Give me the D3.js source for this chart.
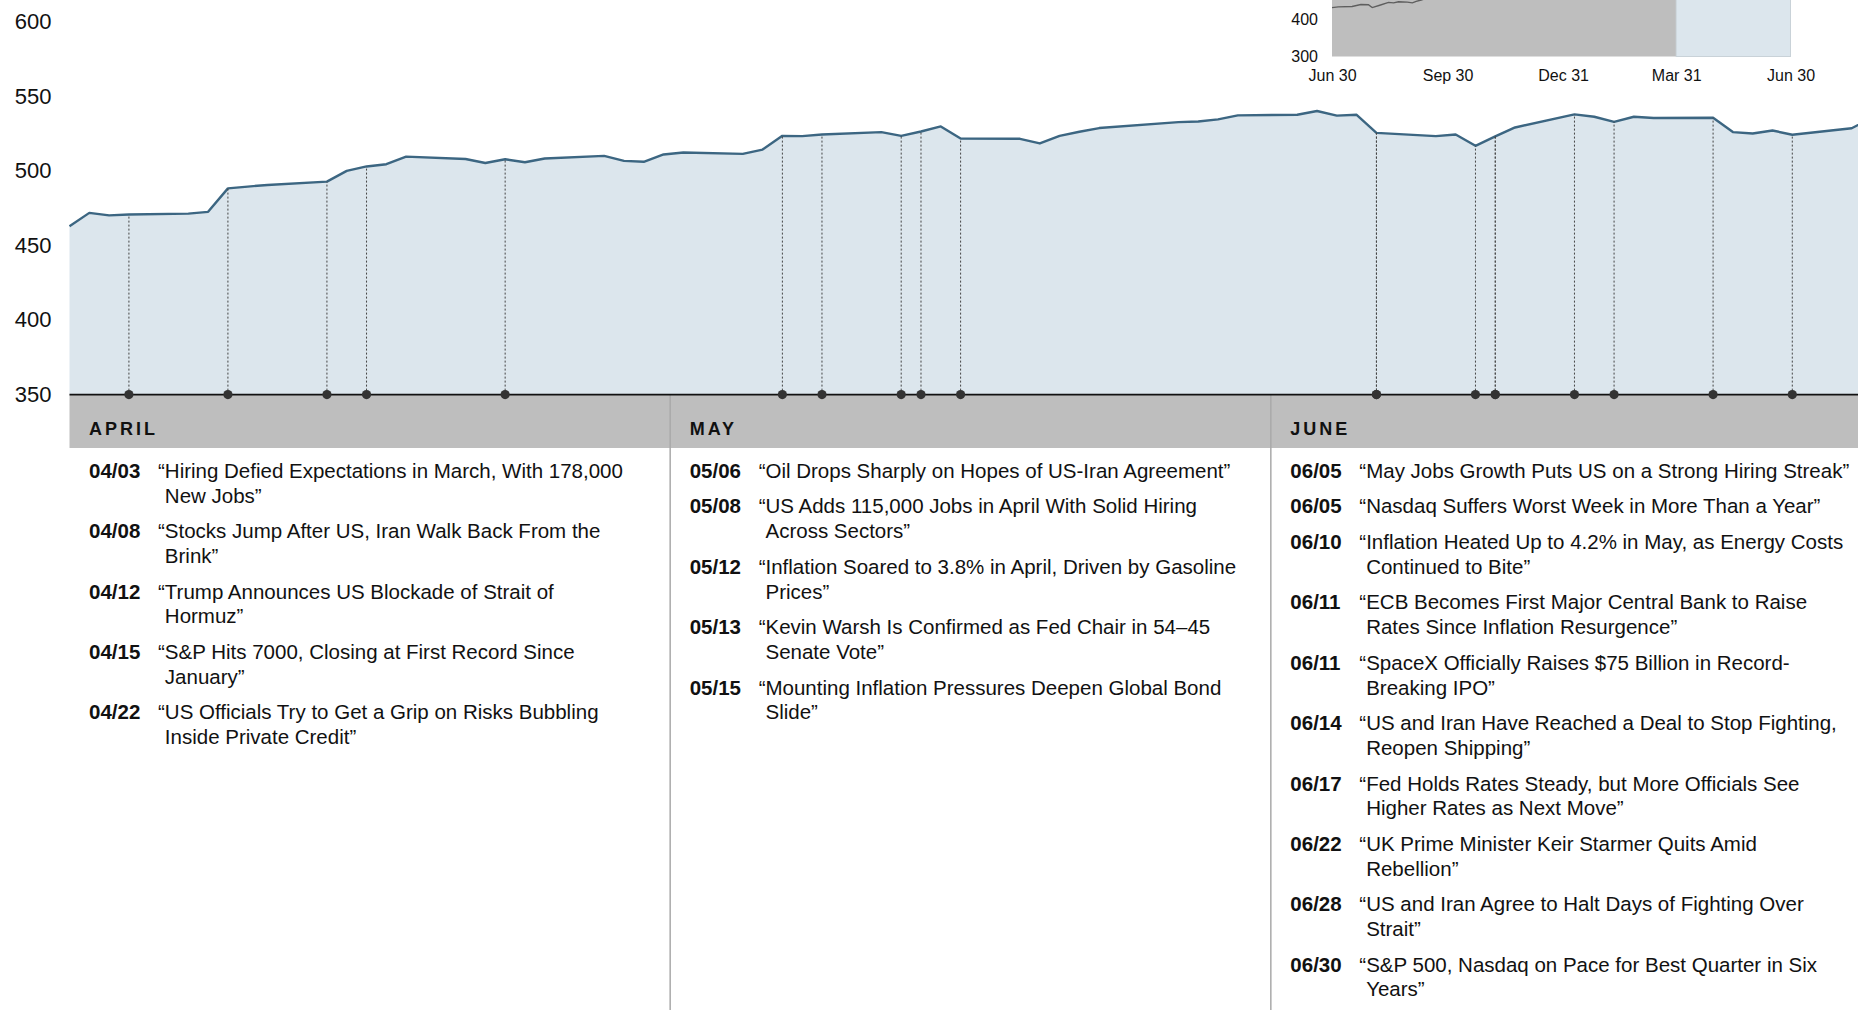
<!DOCTYPE html>
<html>
<head>
<meta charset="utf-8">
<script src="https://cdn.jsdelivr.net/npm/d3@7"></script>
<style>
html, body { margin: 0; padding: 0; background: #fff; overflow: hidden; }
svg { display: block; font-family: "Liberation Sans", Arial, Helvetica, sans-serif; }
</style>
</head>
<body>
<div id="chart"></div>
<script>
// daily closes shown in the main panel
const tradeDates = [
  "2026-03-31","2026-04-01","2026-04-02","2026-04-03","2026-04-06","2026-04-07","2026-04-08","2026-04-09",
  "2026-04-10","2026-04-13","2026-04-14","2026-04-15","2026-04-16","2026-04-17","2026-04-20","2026-04-21",
  "2026-04-22","2026-04-23","2026-04-24","2026-04-27","2026-04-28","2026-04-29","2026-04-30","2026-05-01",
  "2026-05-04","2026-05-05","2026-05-06","2026-05-07","2026-05-08","2026-05-11","2026-05-12","2026-05-13",
  "2026-05-14","2026-05-15","2026-05-18","2026-05-19","2026-05-20","2026-05-21","2026-05-22","2026-05-26",
  "2026-05-27","2026-05-28","2026-05-29","2026-06-01","2026-06-02","2026-06-03","2026-06-04","2026-06-05",
  "2026-06-08","2026-06-09","2026-06-10","2026-06-11","2026-06-12","2026-06-15","2026-06-16","2026-06-17",
  "2026-06-18","2026-06-19","2026-06-22","2026-06-23","2026-06-24","2026-06-25","2026-06-26","2026-06-29",
  "2026-06-30"
]
const closeValues = [
  462.8, 471.7, 470.0, 470.6, 471.2, 472.4, 488.1, 489.3,
  490.4, 492.6, 499.8, 502.8, 504.3, 509.4, 507.8, 505.1,
  507.6, 505.6, 508.1, 509.9, 506.5, 505.9, 510.8, 512.1,
  511.2, 514.1, 523.3, 523.1, 524.2, 525.8, 523.3, 526.2,
  529.6, 521.5, 521.3, 518.2, 523.3, 526.0, 528.5, 532.5,
  532.9, 534.3, 537.0, 537.4, 539.9, 536.8, 537.4, 525.3,
  523.1, 524.2, 516.6, 522.9, 528.9, 537.7, 536.1, 532.7,
  536.1, 535.2, 535.4, 525.8, 524.9, 526.9, 524.0, 528.4,
  535.2
]

// one-year history for the small inset (before the main window)
const insetDates = [
  "2025-06-30","2025-07-05","2025-07-16","2025-07-23","2025-07-29","2025-08-01","2025-08-07","2025-08-14",
  "2025-08-18","2025-08-22","2025-08-29","2025-09-02","2025-09-05","2025-09-09","2025-09-16","2025-09-30",
  "2025-10-15","2025-10-31","2025-11-14","2025-11-28","2025-12-15","2025-12-31","2026-01-15","2026-01-30",
  "2026-02-13","2026-02-27","2026-03-13"
]
const insetValues = [
  432.2, 434.0, 435.0, 440.5, 439.7, 432.2, 438.6, 446.2,
  445.0, 448.0, 447.0, 445.0, 449.0, 452.7, 460.0, 466.0,
  472.0, 480.0, 476.0, 484.0, 488.0, 491.0, 494.0, 486.0,
  478.0, 474.0, 468.0
]

const yTicks = [350, 400, 450, 500, 550, 600]
const insetYTicks = [300, 400]
const insetXTicks = ["2025-06-30", "2025-09-30", "2025-12-31", "2026-03-31", "2026-06-30"]
const months = ["APRIL", "MAY", "JUNE"]

// headlines: label, day the marker is pinned to, title
const eventLabels = ["04/03","04/08","04/12","04/15","04/22",
  "05/06","05/08","05/12","05/13","05/15",
  "06/05","06/05","06/10","06/11","06/11","06/14","06/17","06/22","06/28","06/30"]
const eventPins = ["2026-04-03","2026-04-08","2026-04-13","2026-04-15","2026-04-22",
  "2026-05-06","2026-05-08","2026-05-12","2026-05-13","2026-05-15",
  "2026-06-05","2026-06-05","2026-06-10","2026-06-11","2026-06-11","2026-06-15","2026-06-17","2026-06-22","2026-06-26","2026-06-30"]
const eventTitles = [
  "“Hiring Defied Expectations in March, With 178,000 New Jobs”",
  "“Stocks Jump After US, Iran Walk Back From the Brink”",
  "“Trump Announces US Blockade of Strait of Hormuz”",
  "“S&P Hits 7000, Closing at First Record Since January”",
  "“US Officials Try to Get a Grip on Risks Bubbling Inside Private Credit”",
  "“Oil Drops Sharply on Hopes of US-Iran Agreement”",
  "“US Adds 115,000 Jobs in April With Solid Hiring Across Sectors”",
  "“Inflation Soared to 3.8% in April, Driven by Gasoline Prices”",
  "“Kevin Warsh Is Confirmed as Fed Chair in 54–45 Senate Vote”",
  "“Mounting Inflation Pressures Deepen Global Bond Slide”",
  "“May Jobs Growth Puts US on a Strong Hiring Streak”",
  "“Nasdaq Suffers Worst Week in More Than a Year”",
  "“Inflation Heated Up to 4.2% in May, as Energy Costs Continued to Bite”",
  "“ECB Becomes First Major Central Bank to Raise Rates Since Inflation Resurgence”",
  "“SpaceX Officially Raises $75 Billion in Record-Breaking IPO”",
  "“US and Iran Have Reached a Deal to Stop Fighting, Reopen Shipping”",
  "“Fed Holds Rates Steady, but More Officials See Higher Rates as Next Move”",
  "“UK Prime Minister Keir Starmer Quits Amid Rebellion”",
  "“US and Iran Agree to Halt Days of Fighting Over Strait”",
  "“S&P 500, Nasdaq on Pace for Best Quarter in Six Years”"
]

const parse = d3.timeParse("%Y-%m-%d")
const series = tradeDates.map((d, i) => ({date: parse(d), value: closeValues[i]}))
const insetSeries = insetDates.map((d, i) => ({date: parse(d), value: insetValues[i]})).concat(series)
const events = eventLabels.map((l, i) => ({label: l, pin: parse(eventPins[i]), title: eventTitles[i], month: +l.slice(0, 2) - 4}))

const W = 1858, H = 1013
const svg = d3.select("#chart").append("svg")
    .attr("width", W)
    .attr("height", H)

const x = d3.scaleTime()
    .domain([parse("2026-03-31"), parse("2026-06-30")])
    .range([69.5, 1871.5])
const y = d3.scaleLinear()
    .domain([350, 600])
    .range([394.6, 21.3])

// area + line
svg.append("path")
    .datum(series)
    .attr("fill", "#dce6ed")
    .attr("d", d3.area().x(d => x(d.date)).y0(y(350)).y1(d => y(d.value)))

svg.append("path")
    .datum(series)
    .attr("fill", "none")
    .attr("stroke", "#3c6682")
    .attr("stroke-width", 2.4)
    .attr("stroke-linejoin", "round")
    .attr("d", d3.line().x(d => x(d.date)).y(d => y(d.value)))

// y labels
const yAxis = svg.append("g")
    .attr("transform", "translate(" + x.range()[0] + ",0)")
    .call(d3.axisLeft(y).tickValues(yTicks).tickSize(0).tickPadding(18))
yAxis.select(".domain").remove()
yAxis.selectAll("text")
    .attr("font-family", null)
    .attr("font-size", 22)
    .attr("fill", "#111")

// month band
const band = d3.scaleBand().domain(months).range(x.range())
const bandTop = y(350), bandBottom = 448

svg.append("rect")
    .attr("x", x.range()[0])
    .attr("y", bandTop)
    .attr("width", x.range()[1] - x.range()[0])
    .attr("height", bandBottom - bandTop)
    .attr("fill", "#bebebe")

svg.selectAll(".divider")
    .data(months.slice(1)).enter()
    .append("line")
    .attr("x1", d => band(d)).attr("x2", d => band(d))
    .attr("y1", bandTop).attr("y2", 1010)
    .attr("stroke", "#a9a9a9")
    .attr("stroke-width", 1.5)

svg.selectAll(".month")
    .data(months).enter()
    .append("text")
    .attr("x", d => band(d) + 19.5)
    .attr("y", 434.5)
    .attr("font-size", 18)
    .attr("font-weight", "bold")
    .attr("letter-spacing", 3)
    .attr("fill", "#111")
    .text(d => d)

// event stems and dots
const valueAt = new Map(series.map(d => [+d.date, d.value]))
svg.selectAll(".stem")
    .data(events).enter()
    .append("line")
    .attr("x1", d => x(d.pin)).attr("x2", d => x(d.pin))
    .attr("y1", y(350))
    .attr("y2", d => y(valueAt.get(+d.pin)))
    .attr("stroke", "#444")
    .attr("stroke-width", 1)
    .attr("stroke-dasharray", "2,2")

svg.append("line")
    .attr("x1", x.range()[0]).attr("x2", x.range()[1])
    .attr("y1", y(350)).attr("y2", y(350))
    .attr("stroke", "#111")
    .attr("stroke-width", 1.6)

svg.selectAll(".dot")
    .data(events).enter()
    .append("circle")
    .attr("cx", d => x(d.pin))
    .attr("cy", y(350))
    .attr("r", 4.6)
    .attr("fill", "#333")

// headline lists
const fontSize = 20.5, lineH = 24.7, itemGap = 10.95, firstBase = 477.8
const wrapWidths = [480, 480, 493]

function tokens(s) {
    const out = []
    s.split(" ").forEach((w, i) => {
        w.split(/(?<=-)/).forEach((p, j) => out.push({t: p, sp: i > 0 && j === 0}))
    })
    return out
}

months.forEach((m, mi) => {
    const left = band(m)
    let yy = firstBase
    events.filter(e => e.month === mi).forEach(e => {
        svg.append("text")
            .attr("x", left + 19.5)
            .attr("y", yy)
            .attr("font-size", fontSize)
            .attr("font-weight", "bold")
            .attr("fill", "#111")
            .text(e.label)

        const t = svg.append("text")
            .attr("font-size", fontSize)
            .attr("fill", "#111")
        const probe = t.append("tspan").text("“")
        const indent = probe.node().getComputedTextLength()
        probe.remove()

        let lineNo = 0, cur = ""
        let tspan = t.append("tspan").attr("x", left + 88.5).attr("y", yy)
        tokens(e.title).forEach(tok => {
            const next = cur === "" ? tok.t : cur + (tok.sp ? " " : "") + tok.t
            tspan.text(next)
            if (cur !== "" && tspan.node().getComputedTextLength() > wrapWidths[mi]) {
                tspan.text(cur)
                lineNo++
                cur = tok.t
                tspan = t.append("tspan")
                    .attr("x", left + 88.5 + indent)
                    .attr("y", yy + lineNo * lineH)
                    .text(cur)
            } else {
                cur = next
            }
        })
        yy += (lineNo + 1) * lineH + itemGap
    })
})

// inset: one-year context
const ix = d3.scaleTime()
    .domain([parse("2025-06-30"), parse("2026-06-30")])
    .range([1332, 1790.5])
const iy = d3.scaleLinear()
    .domain([300, 600])
    .range([56.5, -54.5])

const inset = svg.append("g")
inset.append("rect")
    .attr("x", ix.range()[0])
    .attr("y", iy(600))
    .attr("width", ix(parse("2026-03-31")) - ix.range()[0])
    .attr("height", iy(300) - iy(600))
    .attr("fill", "#bebebe")
inset.append("rect")
    .attr("x", ix(parse("2026-03-31")))
    .attr("y", iy(600))
    .attr("width", ix.range()[1] - ix(parse("2026-03-31")))
    .attr("height", iy(300) - iy(600))
    .attr("fill", "#dce6ed")
    .attr("stroke", "#c9d2d8")
    .attr("stroke-width", 1)

inset.append("path")
    .datum(insetSeries)
    .attr("fill", "none")
    .attr("stroke", "#5e5e5e")
    .attr("stroke-width", 1.4)
    .attr("d", d3.line().x(d => ix(d.date)).y(d => iy(d.value)))

const ixAxis = inset.append("g")
    .attr("transform", "translate(0," + iy(300) + ")")
    .call(d3.axisBottom(ix).tickValues(insetXTicks.map(parse)).tickFormat(d3.timeFormat("%b %-d")).tickSize(0).tickPadding(13))
ixAxis.select(".domain").remove()
ixAxis.selectAll("text")
    .attr("font-family", null)
    .attr("font-size", 16)
    .attr("fill", "#111")

const iyAxis = inset.append("g")
    .attr("transform", "translate(" + ix.range()[0] + ",0)")
    .call(d3.axisLeft(iy).tickValues(insetYTicks).tickSize(0).tickPadding(14))
iyAxis.select(".domain").remove()
iyAxis.selectAll("text")
    .attr("font-family", null)
    .attr("font-size", 16)
    .attr("fill", "#111")
</script>
</body>
</html>
